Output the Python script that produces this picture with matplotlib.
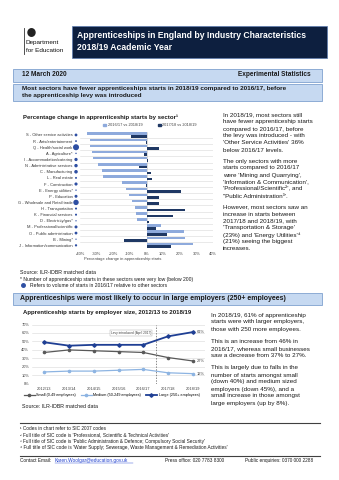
import matplotlib
matplotlib.use("Agg")
import matplotlib.pyplot as plt
from matplotlib.patches import Rectangle, Ellipse
import numpy as np

plt.rcParams['font.family'] = ['Liberation Sans', 'DejaVu Sans']

W, H = 339, 480

# percentage change in starts by sector
sectors = [
    "S - Other service activities", "R - Arts/entertainment", "Q - Health/social work",
    "A - Agriculture*", "I - Accommodation/catering", "N - Administrative services",
    "C - Manufacturing", "L - Real estate", "F - Construction", "E - Energy utilities*",
    "P - Education", "G - Wholesale and Retail trade", "H - Transportation",
    "K - Financial services", "D - Electricity/gas*", "M - Professional/scientific",
    "O - Public administration", "B - Mining*", "J - Information/communication",
]
chg_vs_1617 = [-36, -34, -34, -33, -32, -29, -26.5, -26, -14.5, -12.5,
               -10.8, -8.5, -6.9, -6.5, -6, 8.7, 22.4, 23.4, 27.9]
chg_vs_1718 = [-9.5, -0.3, 7.8, -1.5, 1.2, -4.5, 2.8, 3.3, -0.6, 21,
               7.7, 7.3, 23, 15.8, 1.6, 6, 12.3, -13.5, 15]
# relative volume of starts in 2016/17 (thousands, approx)
volume_1617 = [14, 4, 75, 1, 20, 22, 24, 5, 18, 1,
               16, 60, 6, 6, 0.5, 16, 14, 0.3, 8]

# starts by employer size
years = ["2012/13", "2013/14", "2014/15", "2015/16", "2016/17", "2017/18", "2018/19"]
small = [37, 40, 39, 38, 37, 31, 27]
medium = [14, 15, 15, 16, 17, 13, 12]
large = [49, 45, 46, 46, 46, 56, 61]

NAVY = '#0d1f3f'
BOX_FILL = '#c6d9f1'
BOX_EDGE = '#7fa1cf'
LIGHT_BAR = '#8eaadc'
DARK_BAR = '#1f3864'
TXT = '#1a1a1a'


def px_axes(fig, left, top, right, bottom):
    return fig.add_axes([left / W, 1 - bottom / H, (right - left) / W, (bottom - top) / H])


fig = plt.figure(figsize=(W / 100, H / 100), dpi=100)
bg = fig.add_axes([0, 0, 1, 1])
bg.set_xlim(0, W)
bg.set_ylim(H, 0)
bg.axis('off')

# --- header ---
bg.plot([24, 24], [28, 54], color='#333333', lw=0.6)
bg.add_patch(Ellipse((31.5, 32.5), 7, 7.5, color='#222222'))
bg.text(26, 42.5, "Department", fontsize=4.6, va='center', color='#111111')
bg.text(26, 50.5, "for Education", fontsize=4.6, va='center', color='#111111')
bg.add_patch(Rectangle((72, 26), 255, 32, facecolor=NAVY, edgecolor='#5a7bb0', lw=0.5))
bg.text(77, 36, "Apprenticeships in England by Industry Characteristics",
        fontsize=6.2, color='white', weight='bold', va='center')
bg.text(77, 48, "2018/19 Academic Year", fontsize=6.2, color='white', weight='bold', va='center')

# --- date bar & first heading ---
bg.add_patch(Rectangle((13, 68.5), 309, 13, facecolor=BOX_FILL, edgecolor=BOX_EDGE, lw=0.6))
bg.text(22, 75, "12 March 2020", fontsize=4.7, weight='bold', va='center', color=TXT)
bg.text(311, 75, "Experimental Statistics", fontsize=4.7, weight='bold', va='center',
        ha='right', color=TXT)
bg.add_patch(Rectangle((13, 83.5), 309, 17, facecolor=BOX_FILL, edgecolor=BOX_EDGE, lw=0.6))
bg.text(22, 88.8, "Most sectors have fewer apprenticeships starts in 2018/19 compared to 2016/17, before",
        fontsize=4.6, weight='bold', va='center', color=TXT)
bg.text(22, 95.6, "the apprenticeship levy was introduced", fontsize=4.6, weight='bold',
        va='center', color=TXT)

# --- sector chart ---
bg.text(23, 117, "Percentage change in apprenticeship starts by sector\u00b9",
        fontsize=4.3, weight='bold', va='center', color=TXT)
bg.add_patch(Rectangle((103, 124), 3, 2.2, color=LIGHT_BAR))
bg.text(107.5, 125.2, "2016/17 vs 2018/19", fontsize=2.8, va='center', color='#404040')
bg.add_patch(Rectangle((158, 124), 3, 2.2, color=DARK_BAR))
bg.text(162.5, 125.2, "2017/18 vs 2018/19", fontsize=2.8, va='center', color='#404040')

ax1 = px_axes(fig, 80, 131.9, 213, 248.4)
ax1.set_facecolor('none')
pos = np.arange(len(sectors))
ax1.barh(pos - 0.21, chg_vs_1617, height=0.42, color=LIGHT_BAR, zorder=3)
ax1.barh(pos + 0.21, chg_vs_1718, height=0.42, color=DARK_BAR, zorder=3)
for p in pos[:-1]:
    ax1.axhline(p + 0.5, color='#d9d9d9', lw=0.4, zorder=1)
ax1.axvline(0, color='#bfbfbf', lw=0.4, zorder=2)
ax1.set_xlim(-40, 40)
ax1.set_ylim(len(sectors) - 0.5, -0.5)
ax1.set_xticks(range(-40, 41, 10))
ax1.set_xticklabels([f"{v}%" for v in range(-40, 41, 10)])
ax1.set_yticks(pos)
ax1.set_yticklabels(sectors)
ax1.tick_params(axis='x', length=0, labelsize=2.9, pad=2.5, labelcolor='#404040')
ax1.tick_params(axis='y', length=0, labelsize=2.9, pad=5.3, labelcolor='#333333')
for s in ax1.spines.values():
    s.set_visible(False)
ax1.scatter(np.full(len(pos), -0.03), pos, s=[0.8 + v * 0.24 for v in volume_1617],
            color='#2e4fa3', transform=ax1.get_yaxis_transform(), clip_on=False, zorder=4,
            linewidths=0)
bg.text(122.5, 259, "Percentage change in apprenticeship starts", fontsize=2.9,
        ha='center', va='center', color='#404040')

bg.text(20, 272.5, "Source: ILR-IDBR matched data", fontsize=3.8, va='center', color=TXT)
bg.text(20, 279, "* Number of apprenticeship starts in these sectors were very low (below 200)",
        fontsize=3.6, va='center', color=TXT)
bg.add_patch(Ellipse((23.5, 285.5), 3.5, 3.5, color='#2e4fa3'))
bg.text(30, 285.8, "Refers to volume of starts in 2016/17 relative to other sectors",
        fontsize=3.6, va='center', color=TXT)

para1 = [
    ["In 2018/19, most sectors still", "have fewer apprenticeship starts",
     "compared to 2016/17, before", "the levy was introduced - with",
     "'Other Service Activities' 36%", "below 2016/17 levels."],
    ["The only sectors with more", "starts compared to 2016/17",
     "were 'Mining and Quarrying',", "'Information & Communication',",
     "'Professional/Scientific\u00b2', and", "\"Public Administration\u00b3'."],
    ["However, most sectors saw an", "increase in starts between",
     "2017/18 and 2018/19, with", "'Transportation & Storage'",
     "(23%) and 'Energy Utilities'\u2074", "(21%) seeing the biggest", "increases."],
]
y = 115
for block in para1:
    for line in block:
        bg.text(223, y, line, fontsize=4.5, va='center', color=TXT)
        y += 7
    y += 4

# --- second heading ---
bg.add_patch(Rectangle((13, 292.5), 309, 12, facecolor=BOX_FILL, edgecolor=BOX_EDGE, lw=0.6))
bg.text(20, 298.6, "Apprenticeships were most likely to occur in large employers (250+ employees)",
        fontsize=5, weight='bold', va='center', color=TXT)

# --- employer size chart ---
bg.text(23, 312.7, "Apprenticeship starts by employer size, 2012/13 to 2018/19",
        fontsize=4.3, weight='bold', va='center', color=TXT)
ax2 = px_axes(fig, 32, 324.5, 205, 383.8)
ax2.set_facecolor('none')
x = np.arange(len(years))
ax2.plot(x, small, color='#595959', lw=0.9, marker='o', ms=1.6, label="Small (0-49 employees)")
ax2.plot(x, medium, color='#8db4e2', lw=0.9, marker='o', ms=1.6, label="Medium (50-249 employees)")
ax2.plot(x, large, color='#1f3f94', lw=1.3, marker='D', ms=1.8, label="Large (250+ employees)")
for series in (small, medium, large):
    ax2.annotate(f"{series[-1]}%", (x[-1], series[-1]), xytext=(3, 0),
                 textcoords='offset points', fontsize=2.9, va='center', color='#404040')
ax2.axvline(4.5, color='#595959', lw=0.5, ls=(0, (2, 2)))
ax2.text(3.5, 60, "Levy introduced (April 2017)", fontsize=2.3, ha='center', va='center',
         color='#404040', bbox=dict(boxstyle='square,pad=0.3', fc='white', ec='#a6a6a6', lw=0.3))
ax2.set_xlim(-0.5, 6.5)
ax2.set_ylim(0, 70)
ax2.set_yticks(range(0, 71, 10))
ax2.set_yticklabels([f"{v}%" for v in range(0, 71, 10)])
ax2.set_xticks(x)
ax2.set_xticklabels(years)
ax2.grid(axis='y', color='#d9d9d9', lw=0.4)
ax2.set_axisbelow(True)
ax2.tick_params(length=0, labelsize=2.9, labelcolor='#404040', pad=2)
for s in ax2.spines.values():
    s.set_visible(False)
ax2.legend(loc='upper center', bbox_to_anchor=(0.46, -0.1), ncol=3, fontsize=2.7,
           frameon=False, handlelength=3, columnspacing=1.2, handletextpad=0.4)
bg.text(22, 406.7, "Source: ILR-IDBR matched data", fontsize=3.8, va='center', color=TXT)

para2 = [
    ["In 2018/19, 61% of apprenticeship", "starts were with larger employers,",
     "those with 250 more employees."],
    ["This is an increase from 46% in", "2016/17, whereas small businesses",
     "saw a decrease from 37% to 27%."],
    ["This is largely due to falls in the", "number of starts amongst small",
     "(down 40%) and medium sized", "employers (down 45%), and a",
     "small increase in those amongst", "large employers (up by 8%)."],
]
y = 315
for block in para2:
    for line in block:
        bg.text(211, y, line, fontsize=4.5, va='center', color=TXT)
        y += 7
    y += 5.5

# --- footnotes ---
bg.plot([20, 320], [423.3, 423.3], color='#404040', lw=0.8)
notes = [
    "\u00b9 Codes in chart refer to SIC 2007 codes",
    "\u00b2 Full title of SIC code is 'Professional, Scientific & Technical Activities'",
    "\u00b3 Full title of SIC code is 'Public Administration & Defence; Compulsory Social Security'",
    "\u2074 Full title of SIC code is 'Water Supply; Sewerage, Waste Management & Remediation Activities'",
]
for i, n in enumerate(notes):
    bg.text(20, 429 + i * 6, n, fontsize=3.4, va='center', color=TXT)

bg.plot([20, 320], [455.7, 455.7], color='#404040', lw=0.8)
bg.text(20, 460.7, "Contact Email:", fontsize=3.4, va='center', color=TXT)
bg.text(55, 460.7, "Karen.Woolgar@education.gov.uk", fontsize=3.4, va='center', color='#1f3fcf')
bg.plot([55, 133], [462.6, 462.6], color='#1f3fcf', lw=0.3)
bg.text(165, 460.7, "Press office: 020 7783 8300", fontsize=3.4, va='center', color=TXT)
bg.text(245, 460.7, "Public enquiries: 0370 000 2288", fontsize=3.4, va='center', color=TXT)

fig.savefig("out.png", dpi=100)
